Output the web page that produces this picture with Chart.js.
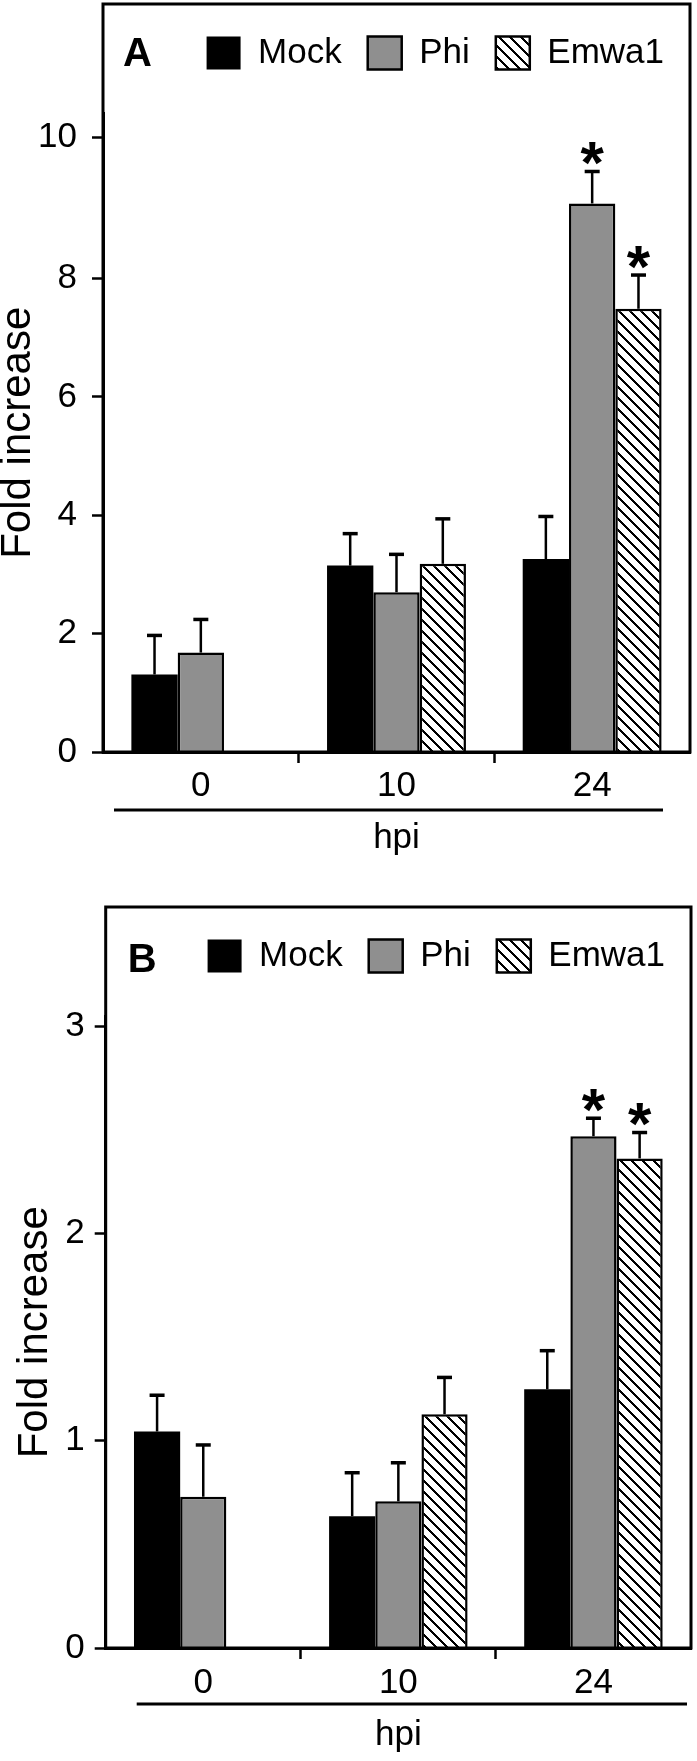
<!DOCTYPE html>
<html><head><meta charset="utf-8">
<script src="https://cdn.jsdelivr.net/npm/chart.js@4.4.1/dist/chart.umd.min.js"></script>
<style>
html,body{margin:0;padding:0;background:#fff;}
body{width:697px;height:1761px;position:relative;overflow:hidden;}
#wrapA{position:absolute;left:0;top:0;width:697px;height:880px;}
#wrapB{position:absolute;left:0;top:903px;width:697px;height:858px;}
canvas{display:block;}
</style></head><body>
<div id="wrapA"><canvas id="chartA" width="697" height="880"></canvas></div>
<div id="wrapB"><canvas id="chartB" width="697" height="858"></canvas></div>
<script>
// ---------- data ----------
const categories = ['0', '10', '24'];
const seriesNames = ['Mock', 'Phi', 'Emwa1'];
const axisTitleY = 'Fold increase';
const axisTitleX = 'hpi';

// Panel A
const mockA = [1.31, 3.15, 3.26];
const phiA = [1.68, 2.70, 9.27];
const emwaA = [null, 3.18, 7.49];
const mockErrA = [0.66, 0.54, 0.72];
const phiErrA = [0.56, 0.64, 0.54];
const emwaErrA = [null, 0.76, 0.57];
const mockSigA = [false, false, false];
const phiSigA = [false, false, true];
const emwaSigA = [false, false, true];
const yTickValuesA = [0, 2, 4, 6, 8, 10.39];
const yTickLabelsA = ['0', '2', '4', '6', '8', '10'];
const yMaxA = 10.79;

// Panel B
const mockB = [1.045, 0.636, 1.249];
const phiB = [0.73, 0.708, 2.47];
const emwaB = [null, 1.128, 2.363];
const mockErrB = [0.175, 0.21, 0.186];
const phiErrB = [0.25, 0.186, 0.087];
const emwaErrB = [null, 0.178, 0.125];
const mockSigB = [false, false, false];
const phiSigB = [false, false, true];
const emwaSigB = [false, false, true];
const yTickValuesB = [0, 1, 2, 3];
const yTickLabelsB = ['0', '1', '2', '3'];
const yMaxB = 3.048;

// ---------- styles ----------
const FONT = '"Liberation Sans", Arial, Helvetica, sans-serif';
Chart.defaults.font.family = FONT;
Chart.defaults.color = '#000';

function makeHatch() {
  const c = document.createElement('canvas');
  c.width = 11; c.height = 11;
  const g = c.getContext('2d');
  g.fillStyle = '#fff'; g.fillRect(0, 0, 11, 11);
  g.fillStyle = '#000';
  for (let i = -2; i < 13; i++) {
    g.fillRect(i, i, 2, 2);
    g.fillRect(i + 11, i, 2, 2);
    g.fillRect(i - 11, i, 2, 2);
  }
  return g.createPattern(c, 'repeat');
}

const decorPlugin = {
  id: 'decor',
  afterDatasetsDraw(chart, args, opts) {
    const ctx = chart.ctx;
    const ys = chart.scales.y;
    ctx.save();
    chart.data.datasets.forEach((ds, di) => {
      const meta = chart.getDatasetMeta(di);
      meta.data.forEach((bar, i) => {
        const v = ds.data[i];
        const e = opts.errors[di][i];
        if (v == null || e == null) return;
        const yTop = ys.getPixelForValue(v + e);
        ctx.strokeStyle = '#000';
        ctx.lineWidth = 2.5;
        ctx.beginPath(); ctx.moveTo(bar.x, bar.y); ctx.lineTo(bar.x, yTop); ctx.stroke();
        ctx.lineWidth = 3.5;
        ctx.beginPath(); ctx.moveTo(bar.x - 7.5, yTop); ctx.lineTo(bar.x + 7.5, yTop); ctx.stroke();
        if (opts.sig[di][i]) {
          ctx.fillStyle = '#000';
          ctx.font = 'bold 60px ' + FONT;
          ctx.textAlign = 'center';
          ctx.textBaseline = 'alphabetic';
          const m = ctx.measureText('*');
          const off = (m.actualBoundingBoxAscent - m.actualBoundingBoxDescent) / 2;
          ctx.fillText('*', bar.x, yTop - 18 + off);
        }
      });
    });
    ctx.restore();
  },
  afterDraw(chart, args, opts) {
    const ctx = chart.ctx;
    const ca = chart.chartArea;
    ctx.save();
    ctx.strokeStyle = '#000';
    ctx.lineWidth = 3;
    ctx.strokeRect(ca.left, opts.frameTop, ca.right - ca.left, ca.bottom - opts.frameTop);
    // underline between tick labels and axis title
    ctx.beginPath();
    ctx.moveTo(ca.left + opts.ulLeft, ca.bottom + opts.ulDy);
    ctx.lineTo(ca.right - opts.ulRight, ca.bottom + opts.ulDy);
    ctx.stroke();
    // panel letter
    ctx.fillStyle = '#000';
    ctx.font = 'bold 40px ' + FONT;
    ctx.textAlign = 'left';
    ctx.textBaseline = 'middle';
    ctx.fillText(opts.letter, ca.left + opts.letterDx, opts.letterY);
    ctx.restore();
  }
};

function makeChart(id, d, st) {
  const hatch = makeHatch();
  return new Chart(document.getElementById(id), {
    type: 'bar',
    data: {
      labels: categories,
      datasets: [
        { label: seriesNames[0], data: d.mock, backgroundColor: '#000', borderColor: '#000', borderWidth: 0 },
        { label: seriesNames[1], data: d.phi, backgroundColor: '#8f8f8f', borderColor: '#000', borderWidth: 2.5 },
        { label: seriesNames[2], data: d.emwa, backgroundColor: hatch, borderColor: '#000', borderWidth: 2.5 }
      ]
    },
    options: {
      responsive: false,
      animation: false,
      devicePixelRatio: 1,
      categoryPercentage: 0.71,
      barPercentage: 1.0,
      layout: { padding: { top: 9.5, left: 0, right: st.padRight, bottom: 0 } },
      plugins: {
        tooltip: { enabled: false },
        legend: {
          display: true, position: 'top', align: 'end', fullSize: false,
          labels: { boxWidth: 34, boxHeight: 33, padding: 26, color: '#000', font: { size: 35 } }
        },
        subtitle: {
          display: true, text: '', position: 'top', weight: 500, fullSize: false,
          font: { size: 10, lineHeight: 1 }, padding: { top: 23, bottom: 0 }
        },
        decor: {
          errors: d.errors, sig: d.sig, letter: st.letter,
          frameTop: 4, ulLeft: st.ulLeft, ulRight: st.ulRight, ulDy: st.ulDy,
          letterDx: st.letterDx, letterY: st.letterY
        }
      },
      scales: {
        x: {
          afterFit: s => { s.height = st.xHeight; },
          ticks: { color: '#000', font: { size: 35, lineHeight: 1.2 }, padding: st.xTickPad, maxRotation: 0, autoSkip: false },
          grid: {
            offset: true, drawOnChartArea: false, drawTicks: true, tickLength: 11, tickWidth: 2.5,
            tickColor: c => (c.index === 1 || c.index === 2) ? '#000' : 'rgba(0,0,0,0)'
          },
          border: { display: true, color: '#000', width: 3 },
          title: { display: true, text: axisTitleX, color: '#000', font: { size: 35, lineHeight: 1 }, padding: { top: 0, bottom: st.xTitlePadB } }
        },
        y: {
          min: 0, max: d.yMax,
          afterBuildTicks: s => { s.ticks = d.tickValues.map(v => ({ value: v })); },
          afterFit: s => { s.width = st.chartLeft; },
          ticks: { color: '#000', font: { size: 35 }, padding: st.yTickPad, autoSkip: false, callback: (v, i) => d.tickLabels[i] },
          grid: { drawOnChartArea: false, drawTicks: true, tickLength: 11, tickWidth: 2.5, tickColor: '#000' },
          border: { display: true, color: '#000', width: 3 },
          title: { display: true, text: axisTitleY, color: '#000', font: { size: 42, lineHeight: 0.85 }, padding: { top: st.yTitlePad, bottom: 0 } }
        }
      }
    },
    plugins: [decorPlugin]
  });
}

makeChart('chartA', {
  mock: mockA, phi: phiA, emwa: emwaA,
  errors: [mockErrA, phiErrA, emwaErrA],
  sig: [mockSigA, phiSigA, emwaSigA],
  tickValues: yTickValuesA, tickLabels: yTickLabelsA, yMax: yMaxA
}, {
  letter: 'A', padRight: 7, chartLeft: 103, xHeight: 128, xTickPad: 2, xTitlePadB: 24.5,
  yTickPad: 15, yTitlePad: 1, ulLeft: 11, ulRight: 27, ulDy: 58, letterDx: 20, letterY: 55
});

makeChart('chartB', {
  mock: mockB, phi: phiB, emwa: emwaB,
  errors: [mockErrB, phiErrB, emwaErrB],
  sig: [mockSigB, phiSigB, emwaSigB],
  tickValues: yTickValuesB, tickLabels: yTickLabelsB, yMax: yMaxB
}, {
  letter: 'B', padRight: 6, chartLeft: 105.7, xHeight: 113, xTickPad: 3, xTitlePadB: 8,
  yTickPad: 10, yTitlePad: 18, ulLeft: 31, ulRight: 4, ulDy: 56, letterDx: 22, letterY: 57.5
});
</script>
</body></html>
